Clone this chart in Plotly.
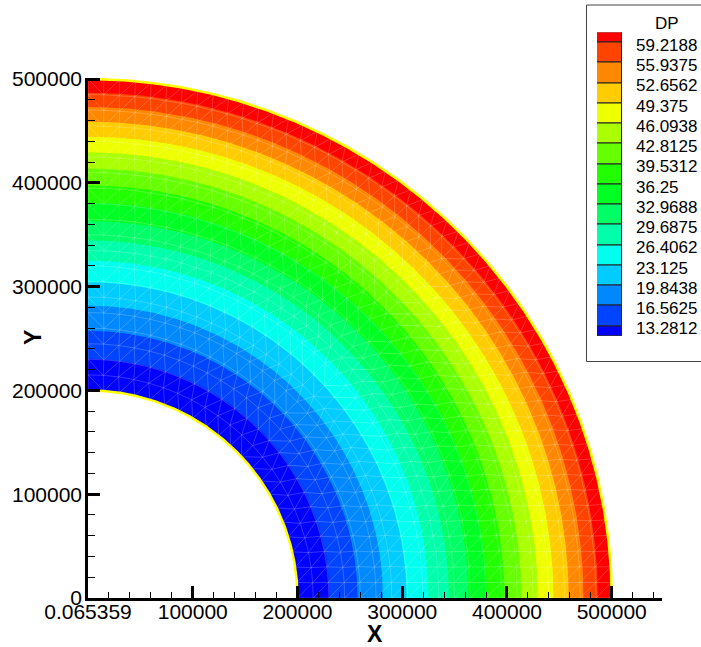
import numpy as np
import plotly.graph_objects as go

# ---- data -------------------------------------------------------------
# DP contour levels (legend entries, bottom to top)
dp_levels = [13.28125, 16.5625, 19.84375, 23.125, 26.40625, 29.6875, 32.96875,
             36.25, 39.53125, 42.8125, 46.09375, 49.375, 52.65625, 55.9375,
             59.21875]
dp_labels = ["13.2812", "16.5625", "19.8438", "23.125", "26.4062", "29.6875",
             "32.9688", "36.25", "39.5312", "42.8125", "46.0938", "49.375",
             "52.6562", "55.9375", "59.2188"]

# radius at which the DP field crosses each contour level
level_radius = [230500, 257400, 281700, 304100, 325000, 344600, 363100,
                380800, 397600, 413800, 429400, 444400, 458900, 473000,
                486700]

# quarter-annulus domain
r_inner = 200000
r_outer = 500000

# axis ticks
x_tickvals = [0, 100000, 200000, 300000, 400000, 500000]
x_ticktext = ["0.065359", "100000", "200000", "300000", "400000", "500000"]
y_tickvals = [0, 100000, 200000, 300000, 400000, 500000]
y_ticktext = ["0", "100000", "200000", "300000", "400000", "500000"]

# flood colours, one per band (below first level ... above last level)
band_colors = [
    "rgb(0,0,255)", "rgb(0,68,255)", "rgb(0,136,255)", "rgb(0,204,255)",
    "rgb(0,255,238)", "rgb(0,255,170)", "rgb(0,255,102)", "rgb(0,255,34)",
    "rgb(34,255,0)", "rgb(102,255,0)", "rgb(170,255,0)", "rgb(238,255,0)",
    "rgb(255,204,0)", "rgb(255,136,0)", "rgb(255,68,0)", "rgb(255,0,0)",
]

FONT = "Liberation Sans, Arial, Helvetica, sans-serif"

fig = go.Figure()

# ---- contour flood: stack sectors from outermost band inwards ---------
band_outer = level_radius + [r_outer]
theta = np.linspace(0, np.pi / 2, 361)
for color, rb in reversed(list(zip(band_colors, band_outer))):
    xs = np.concatenate([rb * np.cos(theta), r_inner * np.cos(theta[::-1])])
    ys = np.concatenate([rb * np.sin(theta), r_inner * np.sin(theta[::-1])])
    fig.add_trace(go.Scatter(
        x=xs, y=ys, mode="lines", fill="toself", fillcolor=color,
        line=dict(width=0), hoverinfo="skip", showlegend=False))

# ---- triangular mesh overlay -------------------------------------------
ring_r = np.linspace(r_inner, r_outer, 21)
ring_theta = [np.linspace(0, np.pi / 2,
                          max(int(round(np.pi / 2 * r / 15000)), 4) + 1)
              for r in ring_r]
mx, my = [], []


def edge(r1, t1, r2, t2):
    mx.extend([r1 * np.cos(t1), r2 * np.cos(t2), None])
    my.extend([r1 * np.sin(t1), r2 * np.sin(t2), None])


for r, th in zip(ring_r, ring_theta):
    mx.extend(list(r * np.cos(th)) + [None])
    my.extend(list(r * np.sin(th)) + [None])

for k in range(len(ring_r) - 1):
    a, b = ring_theta[k], ring_theta[k + 1]
    ra, rb = ring_r[k], ring_r[k + 1]
    i = j = 0
    edge(ra, a[0], rb, b[0])
    while i < len(a) - 1 or j < len(b) - 1:
        if j == len(b) - 1 or (i < len(a) - 1 and a[i + 1] < b[j + 1]):
            i += 1
        else:
            j += 1
        edge(ra, a[i], rb, b[j])

fig.add_trace(go.Scatter(
    x=mx, y=my, mode="lines",
    line=dict(color="rgba(255,255,255,0.25)", width=0.8),
    hoverinfo="skip", showlegend=False))

# ---- boundary arcs -----------------------------------------------------
for r in (r_inner, r_outer):
    fig.add_trace(go.Scatter(
        x=r * np.cos(theta), y=r * np.sin(theta), mode="lines",
        line=dict(color="#ffff00", width=2.5),
        hoverinfo="skip", showlegend=False))

# ---- legend swatches on their own axes ---------------------------------
step = dp_levels[1] - dp_levels[0]
band_lo = [dp_levels[0] - step / 2] + dp_levels
band_hi = dp_levels + [dp_levels[-1] + step / 2]
fig.add_trace(go.Bar(
    x=[0] * len(band_colors),
    y=[h - l for l, h in zip(band_lo, band_hi)],
    base=band_lo, width=1,
    marker=dict(color=band_colors, line=dict(color="#222", width=1)),
    xaxis="x2", yaxis="y2", hoverinfo="skip", showlegend=False))

W, H = 701, 647
annotations = [
    dict(text=lab, x=634 / W, xref="paper", xanchor="left",
         y=lev, yref="y2", yanchor="middle", yshift=-3, showarrow=False,
         font=dict(family=FONT, size=17, color="black"))
    for lev, lab in zip(dp_levels, dp_labels)
]
annotations += [
    dict(text="DP", x=667 / W, y=1 - 23 / H, xref="paper", yref="paper",
         xanchor="center", yanchor="middle", showarrow=False,
         font=dict(family=FONT, size=17, color="black")),
    dict(text="<b>X</b>", x=375 / W, y=1 - 634 / H, xref="paper",
         yref="paper", xanchor="center", yanchor="middle", showarrow=False,
         font=dict(family=FONT, size=23, color="black")),
    dict(text="<b>Y</b>", x=33 / W, y=1 - 338 / H, xref="paper",
         yref="paper", xanchor="center", yanchor="middle", textangle=-90,
         showarrow=False, font=dict(family=FONT, size=23, color="black")),
]

axis_common = dict(
    showgrid=False, zeroline=False, showline=True, linecolor="black",
    linewidth=2.5, ticks="inside", ticklen=12, tickwidth=2.5,
    tickcolor="black", tickmode="array", automargin=False,
    tickfont=dict(family=FONT, size=21, color="black"),
)

fig.update_layout(
    width=W, height=H,
    margin=dict(l=0, r=0, t=0, b=0, autoexpand=False),
    paper_bgcolor="white", plot_bgcolor="white",
    showlegend=False,
    xaxis=dict(
        domain=[88 / W, 662 / W], range=[0, 548000], anchor="y",
        tickvals=x_tickvals, ticktext=x_ticktext, ticklabelstandoff=-7,
        minor=dict(ticks="inside", tickmode="array",
                   tickvals=list(range(0, 548000, 20000)),
                   ticklen=6, tickwidth=1, tickcolor="black"),
        **axis_common),
    yaxis=dict(
        domain=[1 - 598 / H, 1 - 78 / H], range=[0, 501000], anchor="x",
        tickvals=y_tickvals, ticktext=y_ticktext, ticklabelstandoff=-1,
        minor=dict(ticks="inside", tickmode="array",
                   tickvals=list(range(0, 501000, 20000)),
                   ticklen=7, tickwidth=1, tickcolor="black"),
        **axis_common),
    xaxis2=dict(domain=[597 / W, 622 / W], range=[-0.5, 0.5],
                visible=False, anchor="y2", fixedrange=True),
    yaxis2=dict(domain=[1 - 336 / H, 1 - 32.3 / H],
                range=[band_lo[0], band_hi[-1]],
                visible=False, anchor="x2", fixedrange=True),
    shapes=[dict(type="rect", xref="paper", yref="paper",
                 x0=586.5 / W, x1=1.02, y0=1 - 361.5 / H, y1=1 - 5 / H,
                 line=dict(color="#444", width=1), fillcolor="white",
                 layer="below")],
    annotations=annotations,
    bargap=0,
)

fig.write_html("out.html")
